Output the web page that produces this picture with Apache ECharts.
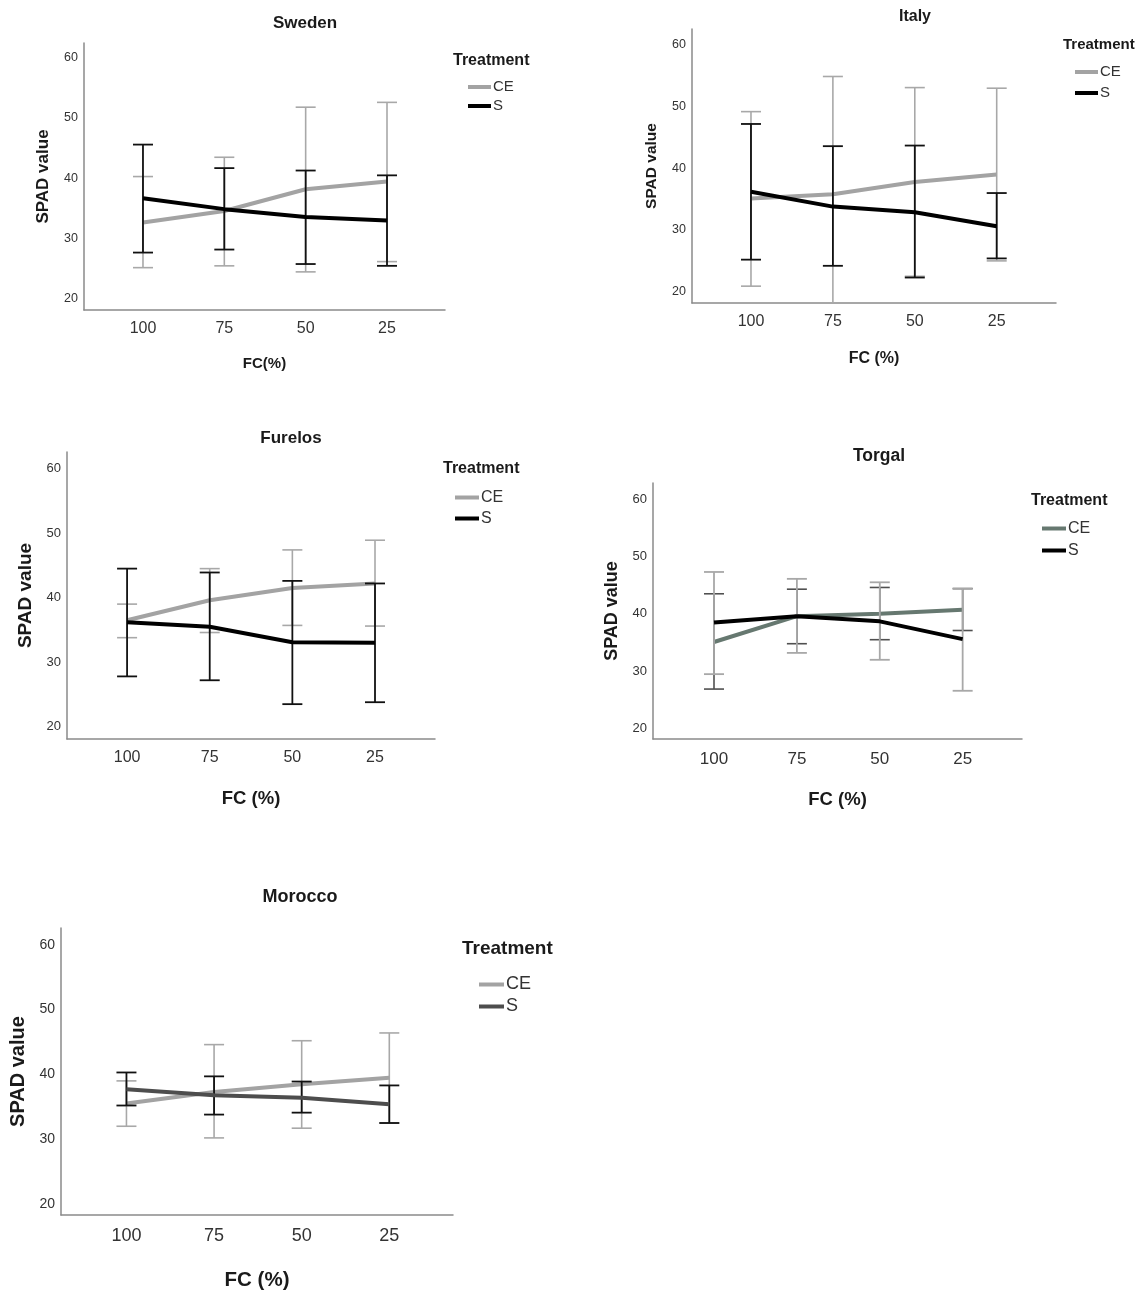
<!DOCTYPE html>
<html>
<head>
<meta charset="utf-8">
<script src="https://cdn.jsdelivr.net/npm/echarts@6/dist/echarts.min.js"></script>
<style>
  html, body { margin: 0; padding: 0; background: #fff; }
  #main { width: 1137px; height: 1292px; }
</style>
</head>
<body>
<div id="main"></div>
<script>
// tick labels
var fcLabels = ['100', '75', '50', '25'];
var spadTicks = [20, 30, 40, 50, 60];

// Sweden
var swedenCE = [32.7, 34.6, 38.2, 39.5];
var swedenCELow = [25.2, 25.5, 24.5, 26.2];
var swedenCEHigh = [40.3, 43.5, 51.8, 52.6];
var swedenS = [36.7, 34.9, 33.6, 33.0];
var swedenSLow = [27.7, 28.2, 25.8, 25.5];
var swedenSHigh = [45.6, 41.7, 41.3, 40.5];

// Italy
var italyCE = [35.1, 35.8, 37.8, 39.0];
var italyCELow = [20.9, 16.7, 22.5, 25.0];
var italyCEHigh = [49.2, 54.9, 53.1, 53.0];
var italyS = [36.2, 33.8, 32.9, 30.6];
var italySLow = [25.2, 24.2, 22.3, 25.4];
var italySHigh = [47.2, 43.6, 43.7, 36.0];

// Furelos
var furelosCE = [36.5, 39.6, 41.5, 42.2];
var furelosCELow = [33.8, 34.6, 35.7, 35.6];
var furelosCEHigh = [39.0, 44.5, 47.4, 48.9];
var furelosS = [36.2, 35.5, 33.1, 33.0];
var furelosSLow = [27.8, 27.2, 23.5, 23.8];
var furelosSHigh = [44.5, 43.9, 42.6, 42.2];

// Torgal
var torgalCE = [35.1, 39.6, 40.0, 40.7];
var torgalCELow = [26.9, 34.8, 35.5, 37.1];
var torgalCEHigh = [43.5, 44.3, 44.6, 44.4];
var torgalS = [38.5, 39.6, 38.7, 35.6];
var torgalSLow = [29.5, 33.2, 32.0, 26.6];
var torgalSHigh = [47.3, 46.1, 45.5, 44.4];

// Morocco
var moroccoCE = [35.5, 37.3, 38.5, 39.5];
var moroccoCELow = [32.0, 30.2, 31.7, 32.5];
var moroccoCEHigh = [39.0, 44.6, 45.2, 46.4];
var moroccoS = [37.7, 36.8, 36.4, 35.4];
var moroccoSLow = [35.2, 33.8, 34.1, 32.5];
var moroccoSHigh = [40.3, 39.7, 38.9, 38.3];

var narrow = "'Liberation Sans Narrow', 'Liberation Sans', Arial, sans-serif";
var wide = "'Liberation Sans', Arial, sans-serif";

// layout and styles of each panel
var panels = [
    {
        name: 'Sweden', xName: 'FC(%)',
        ce: [swedenCE, swedenCELow, swedenCEHigh], s: [swedenS, swedenSLow, swedenSHigh],
        grid: { left: 84, top: 43, width: 361, height: 267 },
        xr: [-0.725, 3.713], yr: [18.18, 62.44],
        title: [305, 23, 17], head: [453, 61, 16],
        legend: { left: 468, top: 79, gap: 3, font: 15, w: 23 },
        yTick: 12.5, xTick: 16, xMargin: 11, xNameSize: 15, xNameGap: 46, yNameSize: 17, yNameGap: 32,
        ceLine: '#a3a3a3', sLine: '#000', ceBar: '#a8a8a8', sBar: '#111'
    },
    {
        name: 'Italy', xName: 'FC (%)',
        ce: [italyCE, italyCELow, italyCEHigh], s: [italyS, italySLow, italySHigh],
        grid: { left: 692, top: 29, width: 364, height: 274 },
        xr: [-0.72, 3.724], yr: [18.17, 62.6],
        title: [915, 17, 16], head: [1063, 45, 15],
        legend: { left: 1075, top: 64, gap: 5, font: 15, w: 23 },
        yTick: 12.5, xTick: 16, xMargin: 11, xNameSize: 16, xNameGap: 48, yNameSize: 15.5, yNameGap: 32,
        ceLine: '#a3a3a3', sLine: '#000', ceBar: '#a8a8a8', sBar: '#111'
    },
    {
        name: 'Furelos', xName: 'FC (%)',
        ce: [furelosCE, furelosCELow, furelosCEHigh], s: [furelosS, furelosSLow, furelosSHigh],
        grid: { left: 67, top: 452, width: 368, height: 287 },
        xr: [-0.727, 3.726], yr: [18.1, 62.57],
        title: [291, 438, 17], head: [443, 469, 16],
        legend: { left: 455, top: 489, gap: 4, font: 16, w: 24 },
        yTick: 13, xTick: 16, xMargin: 11, xNameSize: 18.5, xNameGap: 50, yNameSize: 19, yNameGap: 32,
        ceLine: '#a3a3a3', sLine: '#000', ceBar: '#a8a8a8', sBar: '#111'
    },
    {
        name: 'Torgal', xName: 'FC (%)',
        ce: [torgalCE, torgalCELow, torgalCEHigh], s: [torgalS, torgalSLow, torgalSHigh],
        grid: { left: 653, top: 483, width: 369, height: 256 },
        xr: [-0.736, 3.716], yr: [18.2, 62.8],
        title: [879, 456, 17.5], head: [1031, 501, 16],
        legend: { left: 1042, top: 520, gap: 5, font: 16, w: 24 },
        yTick: 13, xTick: 17, xMargin: 12, xNameSize: 18.5, xNameGap: 51, yNameSize: 18, yNameGap: 32,
        ceLine: '#667870', sLine: '#000', ceBar: '#505050', sBar: '#a8a8a8'
    },
    {
        name: 'Morocco', xName: 'FC (%)',
        ce: [moroccoCE, moroccoCELow, moroccoCEHigh], s: [moroccoS, moroccoSLow, moroccoSHigh],
        grid: { left: 61, top: 928, width: 392, height: 288 },
        xr: [-0.747, 3.727], yr: [18.3, 62.6],
        title: [300, 897, 18], head: [462, 949, 19],
        legend: { left: 479, top: 975, gap: 3, font: 18, w: 25 },
        yTick: 14, xTick: 18, xMargin: 12, xNameSize: 20.5, xNameGap: 55, yNameSize: 20, yNameGap: 33,
        ceLine: '#a3a3a3', sLine: '#4d4d4d', ceBar: '#a8a8a8', sBar: '#111'
    }
];

function errorBars(yMin, color, width) {
    return function (params, api) {
        var x = api.value(0), lo = api.value(1), hi = api.value(2);
        var clipped = lo < yMin;
        var top = api.coord([x, hi]);
        var bot = api.coord([x, Math.max(lo, yMin)]);
        var half = 10;
        var kids = [
            { type: 'line', shape: { x1: top[0], y1: top[1], x2: bot[0], y2: bot[1] }, style: { stroke: color, lineWidth: width } },
            { type: 'line', shape: { x1: top[0] - half, y1: top[1], x2: top[0] + half, y2: top[1] }, style: { stroke: color, lineWidth: width } }
        ];
        if (!clipped) {
            kids.push({ type: 'line', shape: { x1: bot[0] - half, y1: bot[1], x2: bot[0] + half, y2: bot[1] }, style: { stroke: color, lineWidth: width } });
        }
        return { type: 'group', children: kids };
    };
}

function points(values) {
    return values.map(function (v, i) { return [i, v]; });
}

function ranges(low, high) {
    return low.map(function (v, i) { return [i, v, high[i]]; });
}

var grids = [], xAxes = [], yAxes = [], titles = [], legends = [], series = [];

panels.forEach(function (p, k) {
    grids.push(p.grid);
    xAxes.push({
        type: 'value', gridIndex: k, min: p.xr[0], max: p.xr[1],
        name: p.xName, nameLocation: 'middle', nameGap: p.xNameGap,
        nameTextStyle: { fontFamily: narrow, fontWeight: 'bold', fontSize: p.xNameSize, color: '#1a1a1a' },
        axisLine: { show: true, onZero: false, lineStyle: { color: '#8a8a8a', width: 1.5 } },
        axisTick: { show: false },
        splitLine: { show: false },
        axisLabel: {
            customValues: [0, 1, 2, 3], margin: p.xMargin,
            fontFamily: narrow, fontSize: p.xTick, color: '#333',
            formatter: function (v) { return fcLabels[Math.round(v)]; }
        }
    });
    yAxes.push({
        type: 'value', gridIndex: k, min: p.yr[0], max: p.yr[1],
        name: 'SPAD value', nameLocation: 'middle', nameGap: p.yNameGap,
        nameTextStyle: { fontFamily: wide, fontWeight: 'bold', fontSize: p.yNameSize, color: '#1a1a1a' },
        axisLine: { show: true, onZero: false, lineStyle: { color: '#8a8a8a', width: 1.5 } },
        axisTick: { show: false },
        splitLine: { show: false },
        axisLabel: { customValues: spadTicks, margin: 6, fontFamily: narrow, fontSize: p.yTick, color: '#333' }
    });
    titles.push({
        text: p.name, left: p.title[0], top: p.title[1], padding: 0,
        textAlign: 'center', textVerticalAlign: 'middle',
        textStyle: { fontFamily: narrow, fontWeight: 'bold', fontSize: p.title[2], color: '#1a1a1a' }
    });
    titles.push({
        text: 'Treatment', left: p.head[0], top: p.head[1], padding: 0,
        textAlign: 'left', textVerticalAlign: 'middle',
        textStyle: { fontFamily: narrow, fontWeight: 'bold', fontSize: p.head[2], color: '#1a1a1a' }
    });
    legends.push({
        data: [p.name + ' CE', p.name + ' S'],
        orient: 'vertical', left: p.legend.left, top: p.legend.top, padding: 0,
        itemGap: p.legend.gap, itemWidth: p.legend.w, itemHeight: 4, icon: 'rect',
        selectedMode: false,
        formatter: function (n) { return n.split(' ')[1]; },
        textStyle: { fontFamily: narrow, fontSize: p.legend.font, lineHeight: p.legend.font + 1, color: '#333', padding: [0, 0, 0, -3] }
    });
    series.push({
        name: p.name + ' CE err', type: 'custom', xAxisIndex: k, yAxisIndex: k,
        renderItem: errorBars(p.yr[0], p.ceBar, 1.6), data: ranges(p.ce[1], p.ce[2]),
        encode: { x: 0, y: [1, 2] }, silent: true, z: 2
    });
    series.push({
        name: p.name + ' CE', type: 'line', xAxisIndex: k, yAxisIndex: k,
        data: points(p.ce[0]), showSymbol: false, silent: true, z: 3,
        itemStyle: { color: p.ceLine }, lineStyle: { color: p.ceLine, width: 4 }
    });
    series.push({
        name: p.name + ' S err', type: 'custom', xAxisIndex: k, yAxisIndex: k,
        renderItem: errorBars(p.yr[0], p.sBar, 1.8), data: ranges(p.s[1], p.s[2]),
        encode: { x: 0, y: [1, 2] }, silent: true, z: 4
    });
    series.push({
        name: p.name + ' S', type: 'line', xAxisIndex: k, yAxisIndex: k,
        data: points(p.s[0]), showSymbol: false, silent: true, z: 5,
        itemStyle: { color: p.sLine }, lineStyle: { color: p.sLine, width: 4 }
    });
});

var myChart = echarts.init(document.getElementById('main'));
var option = {
    backgroundColor: '#fff',
    animation: false,
    title: titles,
    legend: legends,
    grid: grids,
    xAxis: xAxes,
    yAxis: yAxes,
    series: series
};
myChart.setOption(option);
</script>
</body>
</html>
